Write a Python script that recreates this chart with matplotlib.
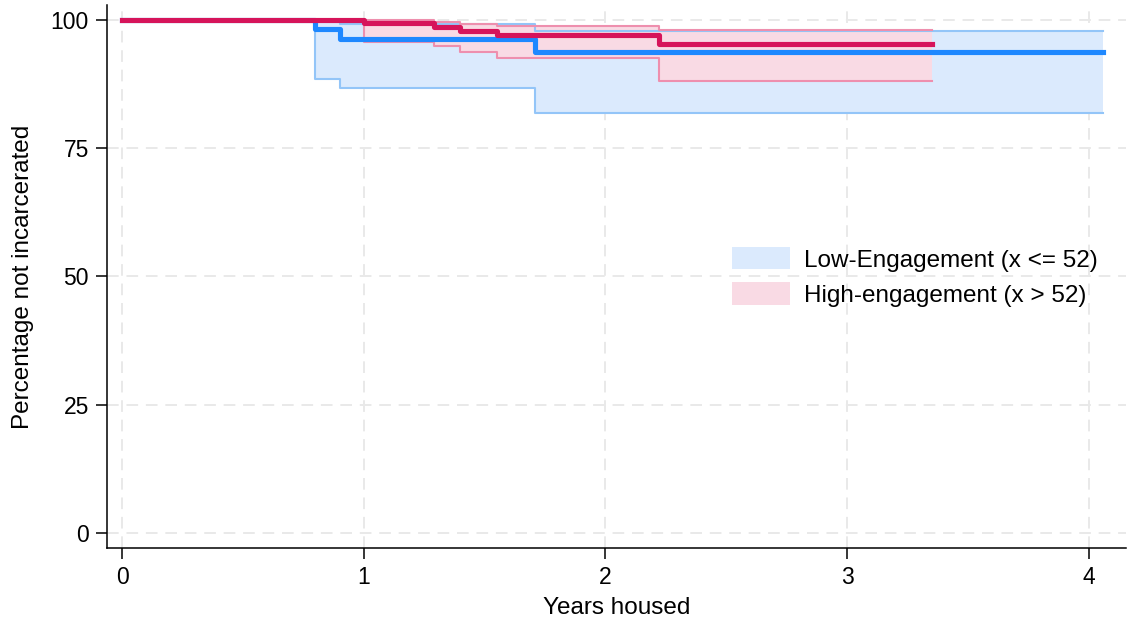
import numpy as np
import matplotlib.pyplot as plt

plt.rcParams['font.family'] = ['Liberation Sans', 'DejaVu Sans']

# Kaplan-Meier estimates (years, percent)
t_low = [0, 0.80, 0.90, 1.71, 4.06]
s_low = [100, 98.2, 96.3, 93.8, 93.8]
lo_low = [100, 88.4, 86.8, 81.8, 81.8]
hi_low = [100, 100, 99.2, 97.9, 97.9]

t_high = [0, 1.00, 1.29, 1.40, 1.55, 2.22, 3.35]
s_high = [100, 99.3, 98.5, 97.9, 97.1, 95.3, 95.3]
lo_high = [100, 95.6, 94.8, 93.8, 92.5, 88.1, 88.1]
hi_high = [100, 100, 99.5, 99.2, 98.8, 98.1, 98.1]

labels = ['Low-Engagement (x <= 52)', 'High-engagement (x > 52)']
x_ticks = [0, 1, 2, 3, 4]
y_ticks = [0, 25, 50, 75, 100]

blue, blue_fill, blue_edge = '#1e88ff', '#dbeafd', '#93c5f8'
pink, pink_fill, pink_edge = '#d6145a', '#f9dae4', '#ee8fae'

fig = plt.figure(figsize=(11.28, 6.25), dpi=100)
ax = fig.add_axes([0.0949, 0.1232, 0.903, 0.869])

# confidence bands
ax.fill_between(t_low, lo_low, hi_low, step='post', color=blue_fill, lw=0, label=labels[0], zorder=1)
ax.fill_between(t_high, lo_high, hi_high, step='post', color=pink_fill, lw=0, label=labels[1], zorder=2)
for t, lo, hi, c in [(t_low, lo_low, hi_low, blue_edge), (t_high, lo_high, hi_high, pink_edge)]:
    ax.plot(t, lo, drawstyle='steps-post', color=c, lw=1.5, zorder=3)
    ax.plot(t, hi, drawstyle='steps-post', color=c, lw=1.5, zorder=3)

# survival curves
ax.plot(t_low, s_low, drawstyle='steps-post', color=blue, lw=3.7, zorder=4, solid_joinstyle='round')
ax.plot(t_high, s_high, drawstyle='steps-post', color=pink, lw=3.7, zorder=5, solid_joinstyle='round')

ax.set_xlim(-0.062, 4.153)
ax.set_ylim(-2.92, 102.9)
ax.set_xticks(x_ticks)
ax.set_yticks(y_ticks)
ax.tick_params(labelsize=16.5, length=8, width=1.1, direction='out', pad=5)
ax.grid(True, color='#e9e9e9', linestyle=(0, (6, 4)), linewidth=1.4, zorder=0)
ax.set_axisbelow(True)
for side in ['top', 'right']:
    ax.spines[side].set_visible(False)
for side in ['left', 'bottom']:
    ax.spines[side].set_linewidth(1.1)

ax.set_xlabel('Years housed', fontsize=17.5, labelpad=6)
ax.set_ylabel('Percentage not incarcerated', fontsize=17.5, labelpad=12)

ax.legend(loc='upper left', bbox_to_anchor=(0.614, 0.554), frameon=False, fontsize=17.5,
          handlelength=2.35, handleheight=1.03, handletextpad=0.6, labelspacing=0.45,
          borderaxespad=0, borderpad=0)

fig.savefig('out.png', dpi=100)
